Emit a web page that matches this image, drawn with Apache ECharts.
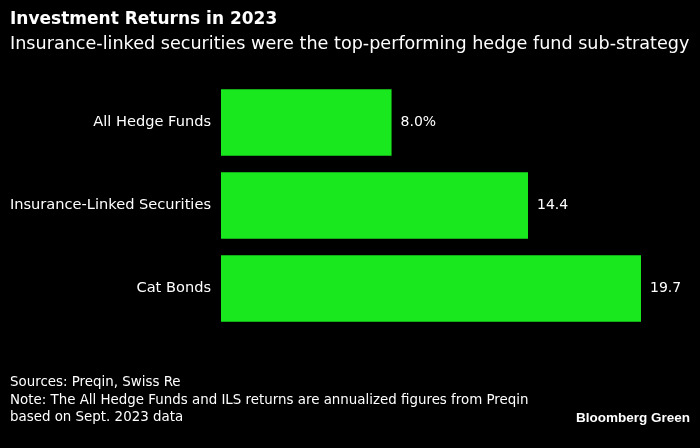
<!DOCTYPE html>
<html>
<head>
<meta charset="utf-8">
<script src="https://cdn.jsdelivr.net/npm/echarts@6/dist/echarts.min.js"></script>
<style>
  html, body { margin: 0; padding: 0; background: #000; }
  #chart { width: 700px; height: 448px; }
</style>
</head>
<body>
<div id="chart"></div>
<script>
  // 类别与数值（自上而下）
  const categories = ['All Hedge Funds', 'Insurance-Linked Securities', 'Cat Bonds'];
  const returns = [8.0, 14.4, 19.7];
  const valueLabels = ['8.0%', '14.4', '19.7'];

  const font = '"DejaVu Sans", "Liberation Sans", sans-serif';
  const chart = echarts.init(document.getElementById('chart'));

  chart.setOption({
    backgroundColor: '#000',
    animation: false,
    title: [
      {
        text: 'Investment Returns in 2023',
        left: 5, top: 6,
        textStyle: { color: '#fff', fontFamily: font, fontSize: 17, fontWeight: 'bold' }
      },
      {
        text: 'Insurance-linked securities were the top-performing hedge fund sub-strategy',
        left: 5, top: 30,
        textStyle: { color: '#fff', fontFamily: font, fontSize: 17.6, fontWeight: 'normal' }
      },
      {
        text: 'Sources: Preqin, Swiss Re\nNote: The All Hedge Funds and ILS returns are annualized figures from Preqin\nbased on Sept. 2023 data',
        left: 5, top: 369,
        textStyle: { color: '#fff', fontFamily: font, fontSize: 13.4, fontWeight: 'normal', lineHeight: 17.5 }
      },
      {
        text: 'Bloomberg Green',
        right: 5, top: 406,
        textStyle: { color: '#fff', fontFamily: '"Liberation Sans", Arial, sans-serif', fontSize: 13.5, fontWeight: 'bold' }
      }
    ],
    grid: { left: 221, top: 81, width: 420, height: 249, containLabel: false },
    xAxis: {
      type: 'value', min: 0, max: 19.7,
      show: false
    },
    yAxis: {
      type: 'category',
      data: categories,
      inverse: true,
      axisLine: { show: false },
      axisTick: { show: false },
      axisLabel: { color: '#fff', fontFamily: font, fontSize: 14.6, margin: 10 }
    },
    series: [{
      type: 'bar',
      data: returns,
      barCategoryGap: '20%',
      itemStyle: { color: '#19e81f' },
      label: {
        show: true,
        position: 'right',
        distance: 9,
        color: '#fff',
        fontFamily: font,
        fontSize: 14,
        formatter: p => valueLabels[p.dataIndex]
      }
    }]
  });
</script>
</body>
</html>
